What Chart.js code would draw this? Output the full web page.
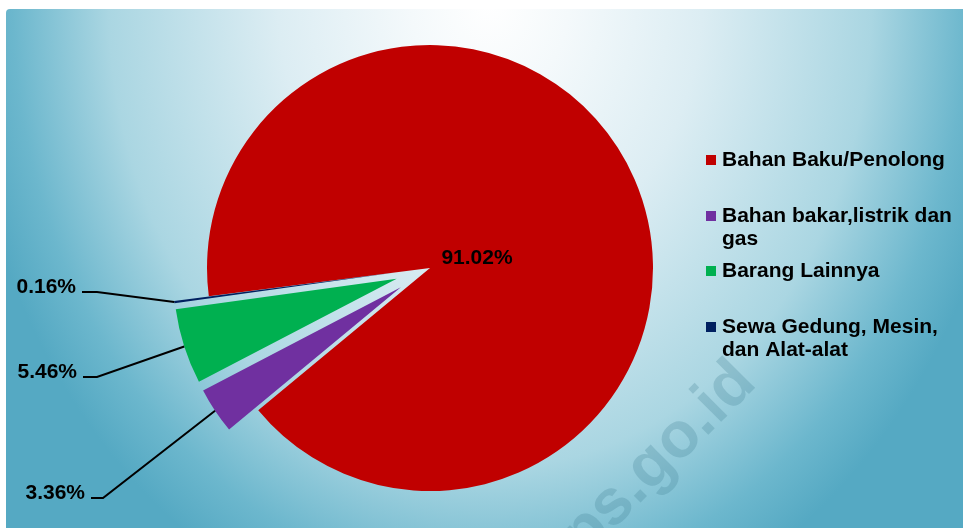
<!DOCTYPE html>
<html>
<head>
<meta charset="utf-8">
<script src="https://cdn.jsdelivr.net/npm/chart.js@4/dist/chart.umd.min.js"></script>
<style>
html,body{margin:0;padding:0;background:#fff;}
#wrap{position:relative;width:963px;height:528px;overflow:hidden;background:#fff;}
#bg{position:absolute;left:6px;top:9px;width:957px;height:519px;border-top-left-radius:4px;
  background:radial-gradient(ellipse 530px 650px at 484px -9px,#ffffff 0%,#f4f9fb 15%,#dcedf3 40%,#aad6e2 72%,#6cb7cd 90%,#55a9c3 100%);}
#wm{position:absolute;left:557px;top:586px;transform-origin:0 0;transform:rotate(-45deg) translate(0,-54px);
  font:bold 64px "Liberation Sans",Arial,sans-serif;line-height:64px;color:rgba(60,125,145,0.25);white-space:nowrap;}
canvas{position:absolute;left:0;top:0;}
</style>
</head>
<body>
<div id="wrap">
  <div id="bg"></div>
  <div id="wm">bps.go.id</div>
  <canvas id="c" width="963" height="528"></canvas>
</div>
<script>
// ---- data ----
const categories = ['Bahan Baku/Penolong', 'Bahan bakar,listrik dan gas', 'Barang Lainnya', 'Sewa Gedung, Mesin, dan Alat-alat'];
const shares = [91.02, 3.36, 5.46, 0.16];
const shareLabels = ['91.02%', '3.36%', '5.46%', '0.16%'];

const FONT = '"Liberation Sans", Arial, sans-serif';

// shifts exploded slices outward along their mid-angle
const explodePlugin = {
  id: 'explode',
  afterDatasetUpdate(chart, args, opts) {
    const meta = args.meta;
    meta.data.forEach((el, i) => {
      const d = (opts.distances && opts.distances[i]) || 0;
      if (!d) return;
      const mid = (el.startAngle + el.endAngle) / 2;
      el.x += Math.cos(mid) * d;
      el.y += Math.sin(mid) * d;
    });
  }
};

const labelPlugin = {
  id: 'pctLabels',
  afterDatasetsDraw(chart, args, opts) {
    const ctx = chart.ctx;
    const meta = chart.getDatasetMeta(0);
    ctx.save();
    ctx.font = 'bold 21px ' + FONT;
    ctx.fillStyle = '#000';
    ctx.strokeStyle = '#000';
    ctx.lineWidth = 2;
    meta.data.forEach((el, i) => {
      const spec = opts.layout[i];
      const txt = shareLabels[i];
      if (spec.inside) {
        ctx.textAlign = 'center';
        ctx.textBaseline = 'middle';
        ctx.fillText(txt, el.x + spec.dx, el.y + spec.dy);
        return;
      }
      const mid = (el.startAngle + el.endAngle) / 2;
      const ex = el.x + Math.cos(mid) * el.outerRadius;
      const ey = el.y + Math.sin(mid) * el.outerRadius;
      ctx.beginPath();
      ctx.moveTo(spec.x, spec.y);
      ctx.lineTo(spec.elbow, spec.y);
      ctx.lineTo(ex, ey);
      ctx.stroke();
      ctx.textAlign = 'right';
      ctx.textBaseline = 'alphabetic';
      ctx.fillText(txt, spec.x - 6, spec.y + 1);
    });
    ctx.restore();
  }
};

const sideLegendPlugin = {
  id: 'sideLegend',
  afterDraw(chart, args, opts) {
    const ctx = chart.ctx;
    const ds = chart.data.datasets[0];
    ctx.save();
    ctx.font = 'bold 21px ' + FONT;
    ctx.textAlign = 'left';
    ctx.textBaseline = 'alphabetic';
    chart.data.labels.forEach((label, i) => {
      const base = opts.top + i * opts.pitch;
      ctx.fillStyle = ds.backgroundColor[i];
      ctx.fillRect(opts.x, Math.round(base - 11), opts.box, opts.box);
      const words = label.split(' ');
      const lines = [];
      let cur = '';
      words.forEach(w => {
        const test = cur ? cur + ' ' + w : w;
        if (ctx.measureText(test).width > opts.maxWidth && cur) { lines.push(cur); cur = w; }
        else cur = test;
      });
      if (cur) lines.push(cur);
      ctx.fillStyle = '#000';
      lines.forEach((ln, k) => ctx.fillText(ln, opts.x + 16, base + k * opts.lineHeight));
    });
    ctx.restore();
  }
};

new Chart(document.getElementById('c'), {
  type: 'pie',
  data: {
    labels: categories,
    datasets: [{
      data: shares,
      backgroundColor: ['#C00000', '#7030A0', '#00B050', '#002060'],
      borderWidth: 0
    }]
  },
  options: {
    responsive: false,
    animation: false,
    events: [],
    rotation: 262.7,
    radius: 223,
    layout: { padding: { left: 100, right: 203, top: 20, bottom: 12 } },
    plugins: {
      legend: { display: false },
      tooltip: { enabled: false },
      explode: { distances: [0, 35, 35, 35] },
      pctLabels: {
        layout: [
          { inside: true, dx: 47, dy: -10 },
          { x: 91, elbow: 103, y: 498 },
          { x: 83, elbow: 97, y: 377 },
          { x: 82, elbow: 97, y: 292 }
        ]
      },
      sideLegend: { x: 706, box: 10, top: 166, pitch: 55.5, lineHeight: 23, maxWidth: 240 }
    }
  },
  plugins: [explodePlugin, labelPlugin, sideLegendPlugin]
});
</script>
</body>
</html>
